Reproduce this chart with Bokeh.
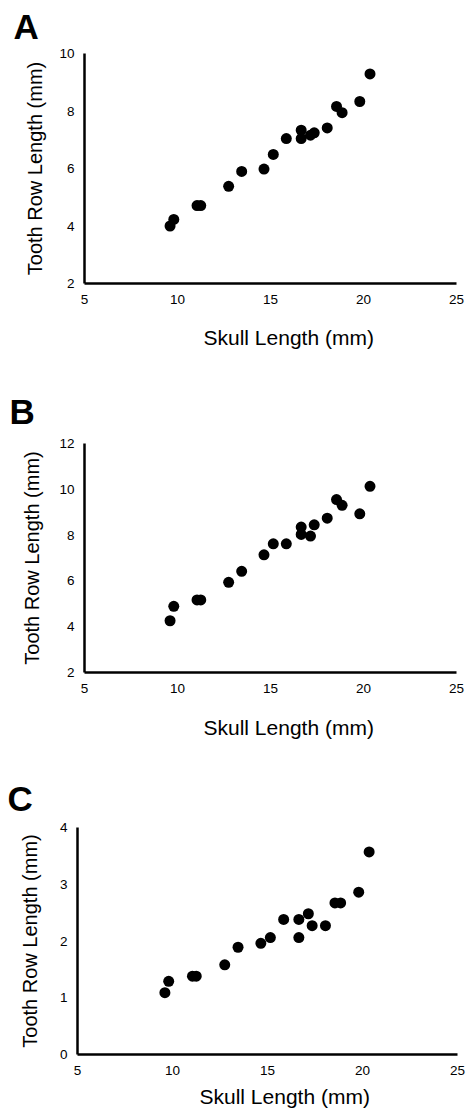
from bokeh.plotting import figure
from bokeh.layouts import column
from bokeh.models import Range1d, FixedTicker, Title
from bokeh.embed import file_html
from bokeh.resources import INLINE

# Data
skull_length = [9.6, 9.8, 11.05, 11.25, 12.75, 13.45, 14.65, 15.15, 15.85, 16.65,
                16.65, 17.15, 17.35, 18.05, 18.55, 18.85, 19.8, 20.35]
tooth_row_a = [4.0, 4.23, 4.71, 4.71, 5.38, 5.9, 5.98, 6.49, 7.04, 7.33,
               7.04, 7.16, 7.24, 7.41, 8.16, 7.94, 8.33, 9.29]
tooth_row_b = [4.26, 4.89, 5.17, 5.17, 5.94, 6.42, 7.14, 7.62, 7.62, 8.35,
               8.03, 7.96, 8.45, 8.74, 9.55, 9.30, 8.93, 10.13]
tooth_row_c = [1.09, 1.29, 1.38, 1.38, 1.58, 1.89, 1.96, 2.06, 2.38, 2.38,
               2.06, 2.48, 2.27, 2.27, 2.67, 2.67, 2.86, 3.57]

x_ticks = [5, 10, 15, 20, 25]
y_ticks_a = [2, 4, 6, 8, 10]
y_ticks_b = [2, 4, 6, 8, 10, 12]
y_ticks_c = [0, 1, 2, 3, 4]

panel_letters = ["A", "B", "C"]
x_title = "Skull Length (mm)"
y_title = "Tooth Row Length (mm)"

FONT = "Liberation Sans"
FIG_W = 469


def make_panel(letter, ys, yticks, height, left, right, top, bottom,
               letter_offset, letter_standoff,
               xtitle_offset, xtitle_standoff, ylab_standoff):
    p = figure(width=FIG_W, height=height,
               x_range=Range1d(x_ticks[0], x_ticks[-1]),
               y_range=Range1d(yticks[0], yticks[-1]),
               output_backend="svg", toolbar_location=None, title=None,
               min_border_left=left, min_border_right=right,
               min_border_top=top, min_border_bottom=bottom)
    p.outline_line_color = None
    p.xgrid.visible = False
    p.ygrid.visible = False
    p.background_fill_color = "white"
    p.border_fill_color = "white"

    p.scatter(skull_length, ys, size=11, color="black", line_color=None)

    p.xaxis.ticker = FixedTicker(ticks=x_ticks)
    p.yaxis.ticker = FixedTicker(ticks=yticks)
    for ax in (p.xaxis, p.yaxis):
        ax.axis_line_width = 2.5
        ax.axis_line_color = "black"
        ax.major_tick_line_color = None
        ax.minor_tick_line_color = None
        ax.major_tick_in = 0
        ax.major_tick_out = 0
        ax.minor_tick_in = 0
        ax.minor_tick_out = 0
        ax.major_label_text_font = FONT
        ax.major_label_text_font_size = "13.5px"
        ax.major_label_text_color = "black"
    p.xaxis.major_label_standoff = 11
    p.yaxis.major_label_standoff = 10
    p.yaxis.axis_label = y_title
    p.yaxis.axis_label_text_font = FONT
    p.yaxis.axis_label_text_font_size = "20px"
    p.yaxis.axis_label_text_font_style = "normal"
    p.yaxis.axis_label_text_color = "black"
    p.yaxis.axis_label_standoff = ylab_standoff

    # panel letter, above the frame
    p.add_layout(Title(text=letter, align="left", offset=letter_offset,
                       vertical_align="top", standoff=letter_standoff,
                       text_font=FONT, text_font_size="35px",
                       text_font_style="bold", text_color="black"), "above")
    # x axis title, below the tick labels
    p.add_layout(Title(text=x_title, align="left", offset=xtitle_offset,
                       vertical_align="top", standoff=xtitle_standoff,
                       text_font=FONT, text_font_size="21px",
                       text_font_style="normal", text_color="black"), "below")
    return p


pa = make_panel(panel_letters[0], tooth_row_a, y_ticks_a, 381,
                left=84, right=13, top=53, bottom=98,
                letter_offset=-71, letter_standoff=12,
                xtitle_offset=119, xtitle_standoff=38, ylab_standoff=10)
pb = make_panel(panel_letters[1], tooth_row_b, y_ticks_b, 390,
                left=84, right=13, top=62, bottom=99,
                letter_offset=-75, letter_standoff=21,
                xtitle_offset=119, xtitle_standoff=40, ylab_standoff=13)
pc = make_panel(panel_letters[2], tooth_row_c, y_ticks_c, 349,
                left=77, right=12, top=56, bottom=66,
                letter_offset=-70, letter_standoff=15,
                xtitle_offset=122, xtitle_standoff=15, ylab_standoff=16)

layout = column(pa, pb, column(pc), spacing=0)

with open("out.html", "w") as f:
    f.write(file_html(layout, INLINE))
